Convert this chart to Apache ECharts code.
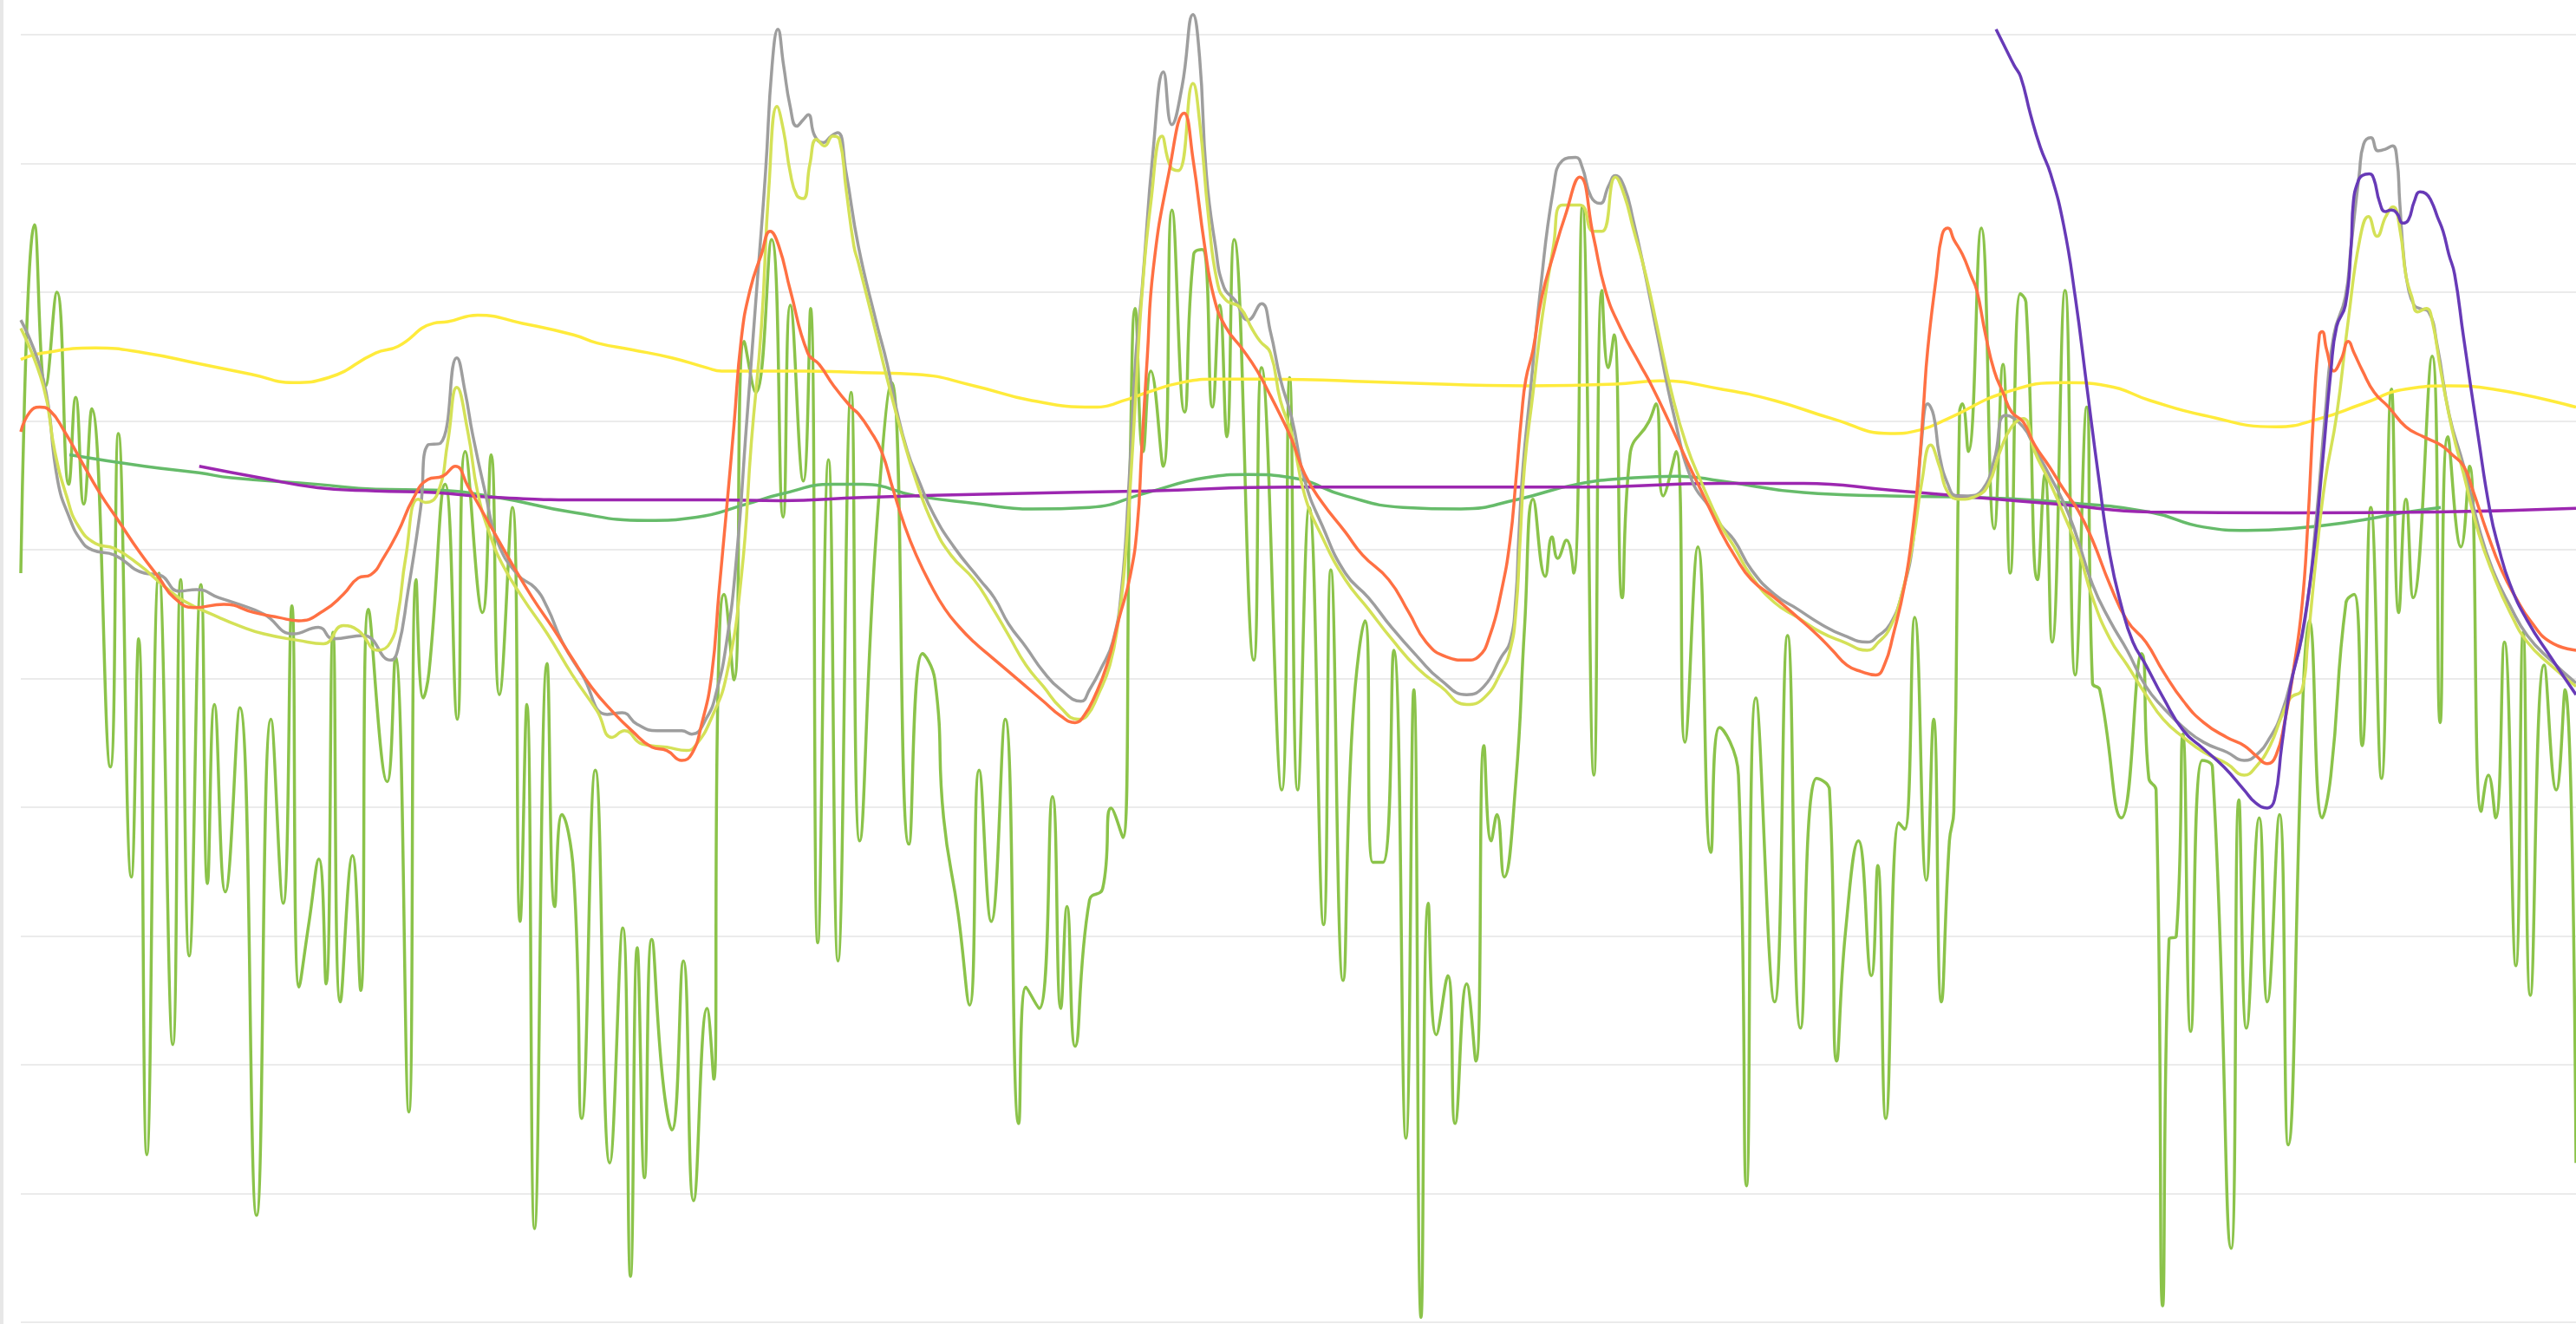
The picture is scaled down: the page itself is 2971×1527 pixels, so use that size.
<!DOCTYPE html>
<html><head><meta charset="utf-8">
<script src="https://cdn.jsdelivr.net/npm/echarts@6/dist/echarts.min.js"></script>
<style>
html,body{margin:0;padding:0;background:#fff;overflow:hidden}
#c{position:absolute;left:0;top:0;width:2971px;height:1527px;border-left:4px solid #e7e7e7;box-sizing:border-box}
</style>
</head><body><div id="c"></div>
<script>
// x: time position, y: reading (arbitrary units; grid step = 78.37)
const yTicks = {min: 0, max: 783.7, step: 78.37};
const xRange = {min: 12.7, max: 1568};

const greenFast = [[12.7,456],[21.1,668],[27.8,570],[34.7,627],[41.9,510],[46.1,563],[51,498],[55.9,556],[67.2,338],[72.1,541],[80,271],[84.4,416],[89.4,102],[96.8,456],[105.2,169],[110,452],[115.2,223],[122.3,449],[126.3,267],[130.5,376],[137.2,262],[146,374],[156.2,65],[165,367],[172.4,255],[177.7,436],[182.1,204],[188.2,244],[194.1,282],[198.5,206],[202.7,420],[207.2,195],[214.6,284],[219.6,202],[224.3,434],[235.7,329],[240.7,405],[248.9,128],[253.3,452],[257.7,380],
[261.2,396],[271,510],[278.4,367],[283.2,530],[293.7,432],[299,528],[304,382],[311.9,496],[316.6,244],[320.7,376],[325.4,57],[333,401],[337.7,253],[342.1,309],[349.2,273],[354.1,124],[362.4,336],[371.2,97],[379.1,240],[383.8,28],[387.9,228],[392.3,88],[396.7,233],[403.4,148],[409,117],[416,220],[422.2,74],[430.4,191],[434.5,148],[437.1,387],[440.7,443],[446.8,391],[453,597],[460,566],[469.7,659],[476.7,490],[481.1,619],[489,512],[493.4,617],[497.8,231],[504.3,525],[510.1,220],[518.1,566],[523.3,293],
[533.1,476],[542.7,572],[553.3,291],[561.6,407],[569.1,391],[574.4,307],[583.2,249],[590.2,193],[596,336],[603.4,244],[611.9,367],[620.1,121],[624.5,204],[632.5,191],[640.7,320],[645.7,191],[649.5,253],[654.4,168],[663.2,257],[671.2,264],[676.4,313],[683.5,295],[687.9,521],[691,617],[695.8,530],[700.5,579],[708.1,521],[713.4,677],[721,554],[726.6,650],[731.9,653],[738,557],[742.4,619],[746.8,539],[751.2,659],[763.2,403],[767.9,581],[780.2,324],
[785,575],[789.9,324],[796.9,496],[805.7,242],[810.1,458],[817.5,208],[823.3,365],[830.9,427],[835.6,280],[841.8,280],[848.4,409],[855.8,112],[860.6,385],[865,3],[869.4,255],[874.3,175],[881.3,211],[885.7,121],[892.8,206],[898.4,159],[903.3,351],[907.7,293],[911.2,309],[915.6,271],[922.7,329],[928,423],[933.2,501],[940.6,454],[944.7,478],[948.2,465],[953.5,476],[957.9,456],[963.2,679],[970.2,333],[975.1,628],[979,581],[982.5,601],[987.4,441],[992.2,528],[1003.6,548],[1008,559],[1012.4,503],[1020.3,530],[1025.6,353],[1033.5,472],[1041.4,286],[1046.7,362],
[1058.2,333],[1063.1,83],[1068.8,380],[1080.2,195],[1088.1,418],[1096,179],[1105.7,331],[1113.6,324],[1118,159],[1123.3,237],[1131.2,293],[1139.1,211],[1143,278],[1147.9,124],[1155.8,304],[1159.4,300],[1165.5,429],[1172.6,269],[1177,367],[1181.7,195],[1186.6,293],[1189.3,311],[1192.8,554],[1194.5,559],[1198.1,530],[1206,666],[1213.9,483],[1219.2,583],[1223.6,456],[1229.7,626],[1233.2,621],[1240.3,452],[1244.7,516],[1249.1,414],[1257,628],[1263.2,394],[1270.2,557],[1273.7,389],[1278.1,385],[1291.3,307],[1303.6,407],[1308,331],
[1312.4,324],[1316.4,10],[1320.3,233],[1324.7,235],[1328.7,358],[1333.5,177],[1340.5,342],[1346.7,338],[1358.1,45],[1362.8,318],[1367.4,179],[1375.2,307],[1380.1,195],[1387.5,309],[1392.8,108],[1402.1,387],[1405.6,427],[1413.5,307],[1418.8,333],[1428,438],[1433,443],[1437.8,351],[1443.1,496],[1449.6,331],[1455.7,568],[1460.1,432],[1464.5,501],[1468.9,441],[1480.4,588],[1485.3,365],[1490,539],[1498,472],[1503.2,521],[1510.3,311],[1514.7,333],[1519.1,307],[1524.4,414],[1531.4,217],[1535.8,420],[1540.2,199],[1548.6,400],[1556,324],[1561.3,385],[1568,97]];

const grayLine = [[12.7,610],[26.4,574],[35.2,512],[42.2,490],[49.3,476],[56.3,470],[69.7,467],[87.9,456],[96.9,455],[109.1,445],[119.7,446],[133.3,441],[145.4,437],[160.6,431],[178.7,419],[193.9,423],[203,416],[221.1,418],[237.8,403],[242.3,410],[248.4,445],[256,495],[260.5,534],[268.1,535],[278.1,587],[283.2,566],[287.8,540],[295.4,505],[302.9,475],[315.1,455],[325.7,447],[333.2,435],[342.3,414],[354.4,394],[369.6,370],[378.7,371],[387.8,364],[399.9,360],[415,360],[421.1,358],[430.2,368],[436.2,384],[442.3,414],[448.3,465],[454.4,546],[460.5,627],[466,700],[470,765],[473.5,787],[477,765],[481,740],[485,728],[489,732],[492,735],[496,722],[501,718],[506,722],[510,724],[515,700],[522.5,655],[533.1,610],[540.1,583],[545.4,557],[552.4,530],[559.4,512],[568.2,492],[580.6,472],[596.4,452],[605.2,441],[614,425],[624.5,411],[635.1,396],[645.7,385],[658,378],[663.2,385],[670.3,398],[677.3,414],[682.6,445],[687,507],[691.4,588],[695.2,629],[702,714],[708.2,761],[713.3,729],[719.5,752],[726.2,796],[730.2,770],[734.3,699],[739.7,656],[745,630],[751.8,622],[759.8,610],[767.9,620],[773.3,603],[779.4,574],[786.4,550],[794.3,512],[804.8,485],[818.9,456],[833,441],[847,423],[862.9,405],[876.9,391],[892.8,382],[903.3,387],[913.9,405],[919.2,414],[922.7,441],[924.4,476],[927.1,521],[931.5,566],[937.5,627],[945.6,690],[951,707],[959.1,709],[963.1,703],[968.5,685],[973.9,681],[979.3,692],[983.3,698],[988.7,691],[994.1,671],[1001,640],[1008,605],[1019.4,550],[1030,512],[1040.6,496],[1047.6,485],[1055.6,476],[1066.1,458],[1080.2,443],[1094.3,434],[1108.3,425],[1122.4,418],[1136.5,414],[1143.5,418],[1150.6,425],[1157.6,443],[1164.6,476],[1169.9,539],[1173.4,559],[1177,552],[1180.5,528],[1185.7,510],[1191,503],[1198.1,503],[1206.9,507],[1213.9,525],[1220.9,552],[1231.5,545],[1238.5,532],[1247.3,516],[1256.1,499],[1263.2,481],[1273.7,449],[1284.3,427],[1294.8,409],[1306.2,387],[1316.8,374],[1329.1,362],[1341.4,353],[1355.5,347],[1366,342],[1373.1,345],[1381.8,356],[1388.9,371],[1395.9,396],[1403,427],[1410,490],[1415.3,552],[1420.6,601],[1427.6,624],[1431.1,655],[1436.1,699],[1438.7,717],[1443.1,721],[1447.5,713],[1451.9,714],[1456.3,716],[1459,708],[1460.7,682],[1463.3,647],[1466,629],[1469.5,619],[1473,617],[1478.3,615],[1483.6,594],[1490.9,552],[1499.7,521],[1508.5,485],[1517.3,458],[1527.9,436],[1538.4,418],[1552.5,403],[1568,389]];

const limeLine = [[12.7,605],[26.4,570],[33.4,530],[40.5,503],[47.5,485],[58.1,474],[69.7,471],[84.8,461],[100,448],[112.1,439],[133.3,429],[145.4,424],[160.6,419],[181.8,415],[196.9,413],[209,424],[218.1,421],[230.2,409],[237.8,414],[242.3,431],[246.9,465],[254.5,501],[259,499],[266.6,505],[272.6,536],[278.1,569],[284.8,542],[290.8,505],[298.4,479],[306,461],[318.1,441],[333.2,419],[348.4,394],[363.5,372],[372.6,356],[380.2,360],[390.8,352],[405.9,350],[418,348],[424.1,352],[433.2,368],[442.3,394],[451.4,455],[457.4,536],[463.5,606],[468,690],[473,740],[477,725],[481,700],[485,686],[489,684],[493,705],[497,720],[502,716],[507,722],[511,720],[515,690],[519.8,655],[522.5,645],[531.3,610],[540.1,574],[548.9,541],[557.7,512],[568.2,485],[578.8,467],[592.9,452],[603.4,436],[614,418],[624.5,400],[635.1,387],[645.7,374],[656.2,367],[661.5,369],[668.5,382],[675.6,400],[680.8,427],[684.4,458],[687.9,507],[691.4,566],[695,624],[700.6,682],[707.3,722],[712.7,703],[717.3,701],[726.2,754],[730.2,731],[735.6,673],[741,633],[746.4,622],[754.5,618],[762.5,604],[767.1,597],[773.3,590],[779.4,561],[786.4,540],[794.3,503],[804.8,478],[818.9,452],[833,434],[847,416],[862.9,398],[876.9,387],[892.8,376],[903.3,380],[913.9,396],[919.2,409],[922.7,432],[925.3,476],[928,521],[933.2,566],[938.5,610],[945.6,655],[951,680],[961.8,680],[969.9,664],[975.2,664],[983.3,697],[988.7,686],[994.1,666],[1001.9,637],[1008.9,605],[1017.7,565],[1026.5,534],[1035.3,512],[1047.6,485],[1055.6,472],[1066.1,454],[1080.2,438],[1094.3,429],[1108.3,420],[1122.4,414],[1136.5,409],[1143.5,414],[1150.6,423],[1157.6,443],[1164.6,476],[1169.9,512],[1175.2,534],[1180.5,521],[1185.7,505],[1192.8,501],[1203.3,503],[1210.4,510],[1217.4,530],[1224.5,545],[1231.5,550],[1238.5,530],[1247.3,512],[1256.1,492],[1265,470],[1273.7,441],[1284.3,416],[1294.8,400],[1306.2,382],[1316.8,367],[1329.1,356],[1341.4,347],[1355.5,340],[1366,333],[1373.1,338],[1381.8,351],[1388.9,369],[1394.2,380],[1401.2,385],[1404.7,414],[1410,467],[1415.3,512],[1422.3,552],[1429.4,610],[1436.4,659],[1441.7,673],[1446.9,661],[1452.2,673],[1456.6,679],[1461,664],[1464.5,637],[1468.1,624],[1471.6,615],[1476.9,617],[1480.4,610],[1485.7,579],[1492.7,543],[1499.7,516],[1508.5,481],[1517.3,456],[1527.9,432],[1538.4,414],[1552.5,400],[1568,387]];

const orangeLine = [[12.7,542],[18.2,554],[24.2,557],[30.3,555],[39.4,542],[48.5,526],[60.6,505],[72.7,487],[84.8,469],[96.9,453],[106,441],[118.1,435],[136.3,437],[154.5,432],[169.6,429],[181.8,427],[196.9,433],[209,443],[218.1,453],[225.7,455],[233.3,465],[242.3,481],[251.4,501],[260.5,513],[269.6,515],[277.2,521],[284.8,509],[293.9,493],[302.9,477],[312,461],[324.1,441],[336.3,423],[348.4,404],[360.5,386],[372.6,372],[384.7,360],[396.9,350],[405.9,348],[415,342],[421.1,346],[427.1,364],[433.2,394],[437.7,445],[442.3,495],[446.8,546],[451.3,599],[456.5,628],[463.5,650],[468.8,664],[474.1,655],[481.1,628],[491.7,590],[498.7,583],[507.5,570],[518.1,557],[522.5,553],[529.5,543],[536.6,530],[543.6,507],[550.6,485],[557.7,467],[566.5,449],[575.3,434],[584.1,423],[592.9,414],[603.4,405],[614,396],[624.5,387],[635.1,378],[645.7,369],[654.4,365],[659.7,369],[666.8,382],[673.8,400],[680.8,427],[687.9,454],[692.3,485],[694.9,530],[698.4,588],[702,641],[711.4,699],[720.8,736],[726.2,708],[733.3,655],[738.9,624],[745.9,606],[756.5,592],[765.3,579],[772.3,566],[779.4,552],[786.4,537],[794.3,516],[804.8,499],[818.9,481],[829.4,467],[845.3,452],[857.6,432],[868.1,414],[880.5,405],[892.8,403],[899.8,405],[906.9,418],[913.9,445],[919.2,476],[922.7,512],[926.2,552],[928.8,574],[933.2,592],[938.5,624],[945.6,650],[952.6,673],[961.6,697],[969.9,661],[977.2,628],[986,606],[998.3,583],[1005.4,570],[1016,548],[1026.5,525],[1037,503],[1047.6,481],[1055.6,467],[1066.1,452],[1080.2,441],[1094.3,429],[1106.6,418],[1115.4,409],[1124.2,400],[1133,396],[1141.8,394],[1147,400],[1152.3,418],[1159.4,449],[1164.6,485],[1168.2,521],[1170.8,557],[1173.4,592],[1178.7,637],[1182.2,662],[1185.7,666],[1189.3,659],[1194.5,650],[1199.8,637],[1203.3,628],[1208.6,601],[1213.9,579],[1219.2,566],[1224.5,554],[1231.5,548],[1238.5,534],[1247.3,521],[1256.1,507],[1265,494],[1273.7,476],[1284.3,449],[1294.8,427],[1306.2,414],[1316.8,396],[1329.1,378],[1341.4,365],[1355.5,356],[1366,351],[1373.1,345],[1380.1,340],[1385.4,345],[1390.6,365],[1395.9,396],[1401.2,436],[1404.7,485],[1408.2,552],[1411.8,601],[1413.5,603],[1416.2,592],[1420.6,579],[1425,586],[1429.4,597],[1432.9,590],[1438.1,579],[1445.2,566],[1454,557],[1464.5,545],[1475.1,539],[1485.7,534],[1492.7,528],[1499.7,521],[1505,507],[1513.8,481],[1522.6,458],[1531.4,441],[1540.2,427],[1552.5,414],[1568,409]];

const yellowLine = [[12.7,586],[26.4,590],[58.1,593],[88,590],[123.2,583],[153.1,577],[178.7,572],[200,575],[228.7,590],[242.3,594],[263.9,608],[272.6,609],[290.8,613],[318.1,608],[349.2,601],[363.5,596],[384.4,592],[409,587],[430.2,581],[439.3,579],[463.5,579],[489.9,579],[525.1,578],[557.7,577],[592.9,570],[628.1,561],[665.6,557],[687.2,562],[698.4,566],[719.5,572],[741,574],[768.8,574],[848.7,572],[929.5,570],[983.3,571],[1010.3,573],[1047.6,568],[1080.2,561],[1115.4,550],[1150.6,541],[1168.2,543],[1185.7,550],[1220.9,566],[1256.1,572],[1282.5,570],[1308.9,561],[1341.4,552],[1385.4,545],[1411.8,550],[1438.1,559],[1464.5,568],[1491,570],[1517.3,568],[1568,557]];

const greenSlow = [[42.3,528],[88,521],[121.2,517],[140.7,514],[193.5,510],[228.7,507],[263.9,506.5],[302.9,502],[348.4,493],[393.8,488],[424.1,490],[454.4,498],[475,504],[507.5,510],[525.1,510],[557.7,503],[592.9,498.5],[628.1,495],[663.2,496],[698.4,505],[733.6,514],[760,516],[786.4,514],[818.9,503],[854.1,496],[889.3,495],[924.4,501],[959.6,510],[994.8,514],[1021.2,515],[1047.6,512],[1097.8,505],[1150.6,503],[1203.3,502],[1256.1,499],[1308.9,493],[1341.4,484],[1367.8,482],[1394.2,483],[1429.4,487],[1464.5,493],[1485.7,496]];

const purpleLine = [[121.3,521],[158.3,514],[193.5,508],[228.7,506],[263.9,505],[302.9,502],[363.5,500.5],[437,500.5],[475,500],[525.1,502],[610.5,504.3],[698.4,506],[786.4,508.3],[871.7,508.3],[959.6,508.3],[1047.6,510.6],[1097.8,510.6],[1150.6,506.5],[1203.3,502],[1256.1,497.6],[1308.9,493.2],[1394.2,492.7],[1482.1,493.2],[1568,495.4]];

const indigoLine = [[1215,787],[1220,777],[1226,765],[1230,758],[1236,735],[1242,715],[1248.2,699],[1256.1,668],[1263.2,624],[1270.2,570],[1277.2,516],[1284.3,467],[1291.3,436],[1298.3,414],[1306.2,400],[1316.8,380],[1329.1,360],[1341.4,349],[1353.7,338],[1366,324],[1373.1,316],[1380.1,313],[1384.5,318],[1388.9,351],[1394.2,387],[1401.2,418],[1408.2,467],[1413.5,521],[1418.8,579],[1422.3,606],[1427.6,619],[1431.1,655],[1432.5,682],[1435.2,694],[1437.8,698],[1442.2,699],[1444.9,696],[1448.4,682],[1451.9,676],[1455.4,677],[1459,675],[1462.5,669],[1466,671],[1469.5,682],[1473,688],[1476.6,687],[1480.1,682],[1483.6,673],[1487.1,664],[1490.6,650],[1494.1,638],[1499.5,600],[1508.5,539],[1515.6,494],[1520.8,472],[1527.9,449],[1538.4,427],[1552.5,405],[1568,382]];

function mk(name, data, color, width) {
  return {
    type: 'line', name: name, data: data, smooth: true,
    showSymbol: false, symbol: 'none', clip: false,
    lineStyle: {color: color, width: width},
    itemStyle: {color: color},
    emphasis: {disabled: true}
  };
}

const chart = echarts.init(document.getElementById('c'));
chart.setOption({
  animation: false,
  backgroundColor: '#ffffff',
  grid: {left: 20, right: 0, top: 40, bottom: 2},
  xAxis: {
    type: 'value', min: xRange.min, max: xRange.max,
    axisLine: {show: false}, axisTick: {show: false}, axisLabel: {show: false},
    splitLine: {show: false}
  },
  yAxis: {
    type: 'value', min: yTicks.min, max: yTicks.max, interval: yTicks.step,
    axisLine: {show: false}, axisTick: {show: false}, axisLabel: {show: false},
    splitLine: {show: true, lineStyle: {color: '#ebebeb', width: 2}}
  },
  series: [
    mk('greenFast', greenFast, '#8bc34a', 3.5),
    mk('yellow', yellowLine, '#ffeb3b', 3.5),
    mk('greenSlow', greenSlow, '#66bb6a', 3.5),
    mk('purple', purpleLine, '#9c27b0', 3.5),
    mk('gray', grayLine, '#9e9e9e', 3.5),
    mk('lime', limeLine, '#d4e157', 3.5),
    mk('orange', orangeLine, '#ff7043', 3.5),
    mk('indigo', indigoLine, '#673ab7', 3.5)
  ]
});
</script>
</body></html>
